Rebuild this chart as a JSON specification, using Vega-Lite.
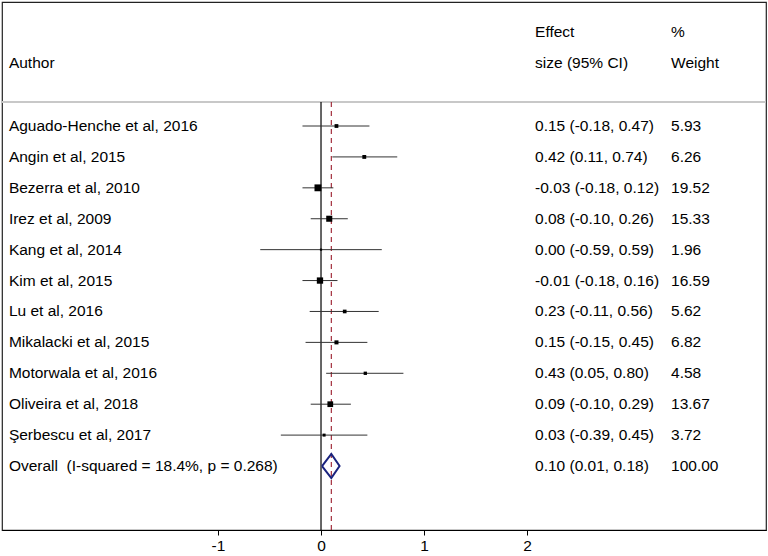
{
  "$schema": "https://vega.github.io/schema/vega-lite/v6.json",
  "width": 764,
  "height": 528,
  "autosize": {"type": "none"},
  "padding": {"left": 2, "top": 2, "right": 2, "bottom": 26},
  "background": "white",
  "config": {
    "view": {"stroke": "#222", "strokeWidth": 1.2},
    "font": "Liberation Sans",
    "text": {"font": "Liberation Sans", "fontSize": 15.5, "color": "#000", "align": "left", "baseline": "middle"}
  },
  "datasets": {
    "studies": [
      {"row": 1, "author": "Aguado-Henche et al, 2016", "es": 0.15, "lo": -0.18, "hi": 0.47, "weight": 5.93, "ci": "0.15 (-0.18, 0.47)", "wt": "5.93"},
      {"row": 2, "author": "Angin et al, 2015", "es": 0.42, "lo": 0.11, "hi": 0.74, "weight": 6.26, "ci": "0.42 (0.11, 0.74)", "wt": "6.26"},
      {"row": 3, "author": "Bezerra et al, 2010", "es": -0.03, "lo": -0.18, "hi": 0.12, "weight": 19.52, "ci": "-0.03 (-0.18, 0.12)", "wt": "19.52"},
      {"row": 4, "author": "Irez et al, 2009", "es": 0.08, "lo": -0.10, "hi": 0.26, "weight": 15.33, "ci": "0.08 (-0.10, 0.26)", "wt": "15.33"},
      {"row": 5, "author": "Kang et al, 2014", "es": 0.00, "lo": -0.59, "hi": 0.59, "weight": 1.96, "ci": "0.00 (-0.59, 0.59)", "wt": "1.96"},
      {"row": 6, "author": "Kim et al, 2015", "es": -0.01, "lo": -0.18, "hi": 0.16, "weight": 16.59, "ci": "-0.01 (-0.18, 0.16)", "wt": "16.59"},
      {"row": 7, "author": "Lu et al, 2016", "es": 0.23, "lo": -0.11, "hi": 0.56, "weight": 5.62, "ci": "0.23 (-0.11, 0.56)", "wt": "5.62"},
      {"row": 8, "author": "Mikalacki et al, 2015", "es": 0.15, "lo": -0.15, "hi": 0.45, "weight": 6.82, "ci": "0.15 (-0.15, 0.45)", "wt": "6.82"},
      {"row": 9, "author": "Motorwala et al, 2016", "es": 0.43, "lo": 0.05, "hi": 0.80, "weight": 4.58, "ci": "0.43 (0.05, 0.80)", "wt": "4.58"},
      {"row": 10, "author": "Oliveira et al, 2018", "es": 0.09, "lo": -0.10, "hi": 0.29, "weight": 13.67, "ci": "0.09 (-0.10, 0.29)", "wt": "13.67"},
      {"row": 11, "author": "Şerbescu et al, 2017", "es": 0.03, "lo": -0.39, "hi": 0.45, "weight": 3.72, "ci": "0.03 (-0.39, 0.45)", "wt": "3.72"}
    ],
    "overall": [
      {"row": 12, "author": "Overall\u00a0 (I-squared = 18.4%, p = 0.268)", "es": 0.10, "lo": 0.01, "hi": 0.18, "ci": "0.10 (0.01, 0.18)", "wt": "100.00"}
    ],
    "diamond": [
      {"order": 1, "x": 0.01, "y": 12},
      {"order": 2, "x": 0.10, "y": 11.61},
      {"order": 3, "x": 0.18, "y": 12},
      {"order": 4, "x": 0.10, "y": 12.39},
      {"order": 5, "x": 0.01, "y": 12}
    ]
  },
  "data": {"name": "studies"},
  "encoding": {
    "x": {"type": "quantitative"},
    "y": {"type": "quantitative"}
  },
  "resolve": {"scale": {"x": "shared", "y": "shared"}},
  "layer": [
    {
      "data": {"values": [{}]},
      "mark": {"type": "rule", "color": "#c8c8c8", "strokeWidth": 2},
      "encoding": {
        "x": {"datum": -3.097, "type": "quantitative",
          "scale": {"domain": [-3.097, 4.32], "nice": false, "zero": false},
          "axis": {"values": [-1, 0, 1, 2], "title": null, "grid": false, "labelFontSize": 15.5, "labelFont": "Liberation Sans", "labelColor": "#000", "tickColor": "#000", "tickSize": 5, "domainColor": "#000", "domainWidth": 1.2, "labelPadding": 3, "labelExpr": "'' + datum.value"}},
        "x2": {"datum": 4.32},
        "y": {"datum": 0.2235, "type": "quantitative",
          "scale": {"domain": [-3.012, 14.07], "nice": false, "zero": false, "reverse": true},
          "axis": null}
      }
    },
    {
      "data": {"values": [{}]},
      "mark": {"type": "rule", "color": "#000", "strokeWidth": 1.2},
      "encoding": {
        "x": {"datum": 0, "type": "quantitative"},
        "y": {"datum": 0.2235, "type": "quantitative"},
        "y2": {"datum": 14.07}
      }
    },
    {
      "data": {"name": "overall"},
      "mark": {"type": "rule", "color": "#9b1c2c", "strokeWidth": 1.1, "strokeDash": [5, 4]},
      "encoding": {
        "x": {"field": "es", "type": "quantitative"},
        "y": {"datum": 0.2235, "type": "quantitative"},
        "y2": {"datum": 14.07}
      }
    },
    {
      "mark": {"type": "rule", "color": "#333", "strokeWidth": 1},
      "encoding": {
        "x": {"field": "lo", "type": "quantitative"},
        "x2": {"field": "hi"},
        "y": {"field": "row", "type": "quantitative"}
      }
    },
    {
      "mark": {"type": "point", "shape": "square", "filled": true, "color": "#000", "opacity": 1},
      "encoding": {
        "x": {"field": "es", "type": "quantitative"},
        "y": {"field": "row", "type": "quantitative"},
        "size": {"field": "weight", "type": "quantitative", "scale": {"domain": [0, 20], "range": [0, 48]}, "legend": null}
      }
    },
    {
      "data": {"name": "diamond"},
      "mark": {"type": "line", "color": "#1a237e", "strokeWidth": 2},
      "encoding": {
        "x": {"field": "x", "type": "quantitative"},
        "y": {"field": "y", "type": "quantitative"},
        "order": {"field": "order", "type": "quantitative"}
      }
    },
    {
      "mark": {"type": "text"},
      "encoding": {
        "x": {"datum": -3.03, "type": "quantitative"},
        "y": {"field": "row", "type": "quantitative"},
        "text": {"field": "author"}
      }
    },
    {
      "mark": {"type": "text"},
      "encoding": {
        "x": {"datum": 2.078, "type": "quantitative"},
        "y": {"field": "row", "type": "quantitative"},
        "text": {"field": "ci"}
      }
    },
    {
      "mark": {"type": "text"},
      "encoding": {
        "x": {"datum": 3.398, "type": "quantitative"},
        "y": {"field": "row", "type": "quantitative"},
        "text": {"field": "wt"}
      }
    },
    {
      "data": {"name": "overall"},
      "mark": {"type": "text"},
      "encoding": {
        "x": {"datum": -3.03, "type": "quantitative"},
        "y": {"field": "row", "type": "quantitative"},
        "text": {"field": "author"}
      }
    },
    {
      "data": {"name": "overall"},
      "mark": {"type": "text"},
      "encoding": {
        "x": {"datum": 2.078, "type": "quantitative"},
        "y": {"field": "row", "type": "quantitative"},
        "text": {"field": "ci"}
      }
    },
    {
      "data": {"name": "overall"},
      "mark": {"type": "text"},
      "encoding": {
        "x": {"datum": 3.398, "type": "quantitative"},
        "y": {"field": "row", "type": "quantitative"},
        "text": {"field": "wt"}
      }
    },
    {
      "data": {"values": [{}]},
      "mark": {"type": "text"},
      "encoding": {
        "x": {"datum": -3.03, "type": "quantitative"},
        "y": {"datum": -1.038, "type": "quantitative"},
        "text": {"value": "Author"}
      }
    },
    {
      "data": {"values": [{}]},
      "mark": {"type": "text"},
      "encoding": {
        "x": {"datum": 2.078, "type": "quantitative"},
        "y": {"datum": -2.041, "type": "quantitative"},
        "text": {"value": "Effect"}
      }
    },
    {
      "data": {"values": [{}]},
      "mark": {"type": "text"},
      "encoding": {
        "x": {"datum": 2.078, "type": "quantitative"},
        "y": {"datum": -1.038, "type": "quantitative"},
        "text": {"value": "size (95% CI)"}
      }
    },
    {
      "data": {"values": [{}]},
      "mark": {"type": "text"},
      "encoding": {
        "x": {"datum": 3.398, "type": "quantitative"},
        "y": {"datum": -2.041, "type": "quantitative"},
        "text": {"value": "%"}
      }
    },
    {
      "data": {"values": [{}]},
      "mark": {"type": "text"},
      "encoding": {
        "x": {"datum": 3.398, "type": "quantitative"},
        "y": {"datum": -1.038, "type": "quantitative"},
        "text": {"value": "Weight"}
      }
    }
  ]
}
